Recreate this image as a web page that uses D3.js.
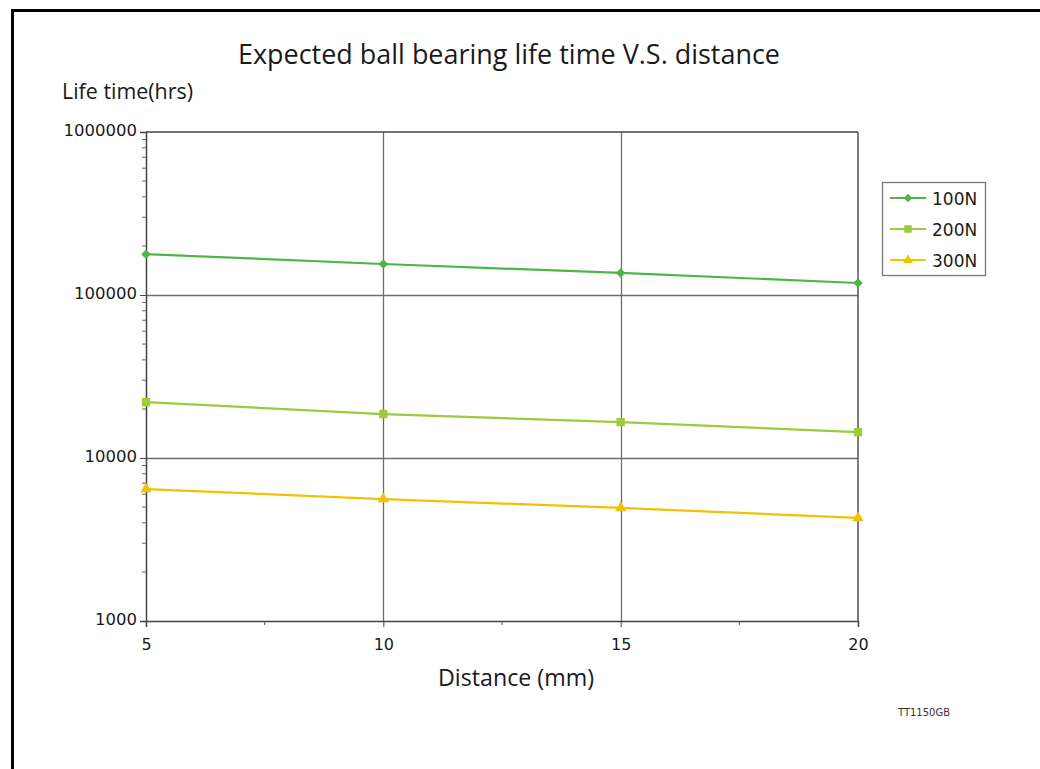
<!DOCTYPE html>
<html><head><meta charset="utf-8">
<script src="https://cdn.jsdelivr.net/npm/d3@7"></script>
<style>body{margin:0;background:#fff} svg{display:block}</style>
</head><body>
<script>
const distances = [5, 10, 15, 20];
const seriesNames = ["100N", "200N", "300N"];
const life100 = [178000, 155000, 136500, 118500];
const life200 = [22000, 18600, 16600, 14400];
const life300 = [6450, 5600, 4940, 4290];
const yTickValues = [1000, 10000, 100000, 1000000];
const xTickValues = [5, 10, 15, 20];
const xMinorTicks = [7.5, 12.5, 17.5];
const seriesColors = ["#4fb548", "#9ccb3b", "#f2c200"];
const seriesSymbols = ["diamond", "square", "triangle"];

const series = seriesNames.map((name, i) => ({
  name, color: seriesColors[i], symbol: seriesSymbols[i],
  values: [life100, life200, life300][i].map((v, j) => ({x: distances[j], y: v}))
}));

function marker(sel, type, scale) {
  if (type === "diamond") {
    sel.append("path").attr("d", d3.symbol().type(d3.symbolSquare).size(46 * scale)())
      .attr("transform", "rotate(45)");
  } else if (type === "square") {
    sel.append("path").attr("d", d3.symbol().type(d3.symbolSquare).size(70 * scale)());
  } else {
    sel.append("path").attr("d", d3.symbol().type(d3.symbolTriangle).size(55 * scale)());
  }
}

const W = 1040, H = 769;
const svg = d3.select("body").append("svg").attr("width", W).attr("height", H);

// outer frame (top and left)
svg.append("path").attr("d", "M12.5,769 V10.5 H1040").attr("fill", "none").attr("stroke", "#000").attr("stroke-width", 3);

const x = d3.scaleLinear().domain([5, 20]).range([146, 858]);
const y = d3.scaleLog().domain([1000, 1000000]).range([621, 132]);

const fontTick = "'DejaVu Sans', Verdana, sans-serif";
const fontTitle = "'Open Sans', 'DejaVu Sans', sans-serif";

// grid lines
svg.append("g").selectAll("line").data(yTickValues.slice(1, 3)).join("line")
  .attr("x1", x(5)).attr("x2", x(20)).attr("y1", d => Math.round(y(d)) + 0.5).attr("y2", d => Math.round(y(d)) + 0.5)
  .attr("stroke", "#6e6e6e").attr("stroke-width", 1.3);
svg.append("g").selectAll("line").data(xTickValues.slice(1, 3)).join("line")
  .attr("y1", y(1000)).attr("y2", y(1000000)).attr("x1", d => Math.round(x(d)) + 0.5).attr("x2", d => Math.round(x(d)) + 0.5)
  .attr("stroke", "#6e6e6e").attr("stroke-width", 1.3);

// y axis
const yMinor = [];
for (let e = 3; e < 6; e++) for (let m = 2; m <= 9; m++) yMinor.push(m * Math.pow(10, e));
const yAxis = svg.append("g").attr("transform", `translate(${x(5)},0)`)
  .call(d3.axisLeft(y).tickValues(yTickValues).tickFormat(d3.format("d")).tickSize(6).tickPadding(3));
yAxis.select(".domain").attr("stroke", "#444").attr("stroke-width", 1.5);
yAxis.selectAll(".tick line").attr("stroke", "#444");
yAxis.selectAll(".tick text").attr("font-family", fontTick).attr("font-size", 16.5).attr("fill", "#1a1a1a")
  .attr("dy", "0.2em");
svg.append("g").selectAll("line").data(yMinor).join("line")
  .attr("x1", x(5) - 4).attr("x2", x(5)).attr("y1", d => y(d)).attr("y2", d => y(d))
  .attr("stroke", "#666").attr("stroke-width", 1);

// x axis
const xAxis = svg.append("g").attr("transform", `translate(0,${y(1000)})`)
  .call(d3.axisBottom(x).tickValues(xTickValues).tickFormat(d3.format("d")).tickSize(6).tickPadding(12));
xAxis.select(".domain").attr("stroke", "#444").attr("stroke-width", 1.5);
xAxis.selectAll(".tick line").attr("stroke", "#444");
xAxis.selectAll(".tick text").attr("font-family", fontTick).attr("font-size", 16).attr("fill", "#1a1a1a");
svg.append("g").selectAll("line").data(xMinorTicks).join("line")
  .attr("x1", d => x(d)).attr("x2", d => x(d)).attr("y1", y(1000)).attr("y2", y(1000) + 4)
  .attr("stroke", "#555");

// top & right border lines
svg.append("line").attr("x1", x(5)).attr("x2", x(20)).attr("y1", y(1e6)).attr("y2", y(1e6)).attr("stroke", "#444").attr("stroke-width", 1.3);
svg.append("line").attr("x1", x(20)).attr("x2", x(20)).attr("y1", y(1e6)).attr("y2", y(1000)).attr("stroke", "#555").attr("stroke-width", 1.5);

// series
const line = d3.line().x(d => x(d.x)).y(d => y(d.y));
series.forEach(s => {
  svg.append("path").datum(s.values).attr("d", line).attr("fill", "none")
    .attr("stroke", s.color).attr("stroke-width", 2.2);
  svg.append("g").attr("fill", s.color).selectAll("g").data(s.values).join("g")
    .attr("transform", d => `translate(${x(d.x)},${y(d.y)})`)
    .each(function () { marker(d3.select(this), s.symbol, 1); });
});

// titles
svg.append("text").attr("x", 509).attr("y", 64).attr("text-anchor", "middle")
  .attr("font-family", fontTitle).attr("font-size", 28).attr("fill", "#1a1a1a")
  .attr("textLength", 542).attr("lengthAdjust", "spacingAndGlyphs")
  .text("Expected ball bearing life time V.S. distance");
svg.append("text").attr("x", 62).attr("y", 99)
  .attr("font-family", fontTitle).attr("font-size", 21).attr("fill", "#1a1a1a")
  .attr("textLength", 131).attr("lengthAdjust", "spacingAndGlyphs")
  .text("Life time(hrs)");
svg.append("text").attr("x", 516).attr("y", 686).attr("text-anchor", "middle")
  .attr("font-family", fontTitle).attr("font-size", 24).attr("fill", "#1a1a1a")
  .attr("textLength", 156).attr("lengthAdjust", "spacingAndGlyphs")
  .text("Distance (mm)");
svg.append("text").attr("x", 924).attr("y", 716).attr("text-anchor", "middle")
  .attr("font-family", fontTick).attr("font-size", 11).attr("fill", "#333")
  .attr("textLength", 52).attr("lengthAdjust", "spacingAndGlyphs")
  .text("TT1150GB");

// legend
const lg = svg.append("g").attr("transform", "translate(882,182)");
lg.append("rect").attr("x", 0.5).attr("y", 0.5).attr("width", 103).attr("height", 93)
  .attr("fill", "#fff").attr("stroke", "#777").attr("stroke-width", 1.3);
series.forEach((s, i) => {
  const cy = 16 + i * 31;
  lg.append("line").attr("x1", 8).attr("x2", 44).attr("y1", cy).attr("y2", cy)
    .attr("stroke", s.color).attr("stroke-width", 2.2);
  const g = lg.append("g").attr("fill", s.color).attr("transform", `translate(26,${cy})`);
  marker(g, s.symbol, 0.8);
  lg.append("text").attr("x", 50).attr("y", cy + 6.5)
    .attr("font-family", fontTick).attr("font-size", 17).attr("fill", "#1a1a1a").text(s.name);
});
</script>
</body></html>
